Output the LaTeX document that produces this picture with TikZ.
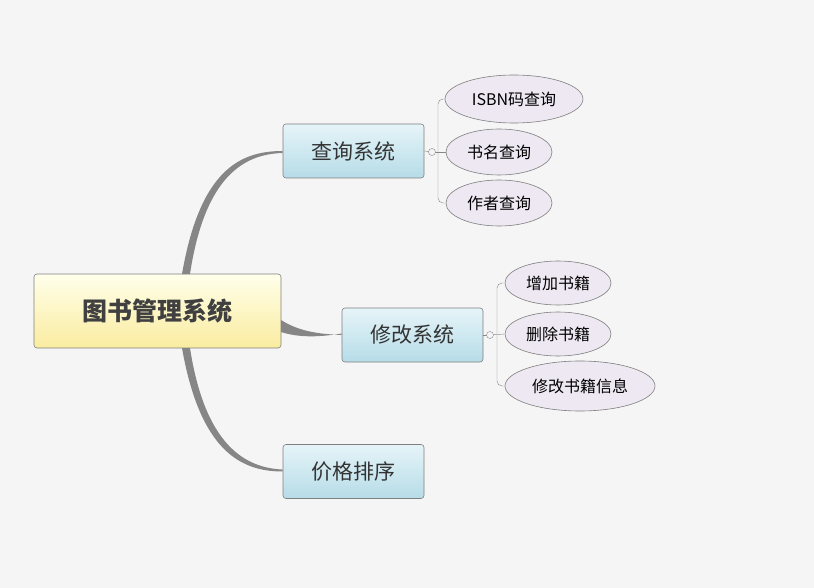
\documentclass[tikz,border=0pt]{standalone}
\usepackage{fontspec}
\setmainfont{Noto Sans CJK SC}
\usetikzlibrary{shapes.geometric}
\definecolor{bgc}{HTML}{F5F5F5}
\definecolor{linec}{HTML}{868686}
\definecolor{edgec}{HTML}{7F7F7F}
\begin{document}
\begin{tikzpicture}[x=1pt,y=-1pt,
    root/.style={draw=edgec,semithick,rounded corners=3pt,top color=yellow!8,bottom color={rgb,255:red,250;green,236;blue,160},
      minimum width=247pt,minimum height=74pt,font=\fontsize{25}{25}\selectfont\bfseries,text=black!75},
    branch/.style={draw=edgec,semithick,rounded corners=3pt,top color={rgb,255:red,230;green,244;blue,248},bottom color={rgb,255:red,182;green,220;blue,232},
      minimum width=141pt,minimum height=54pt,font=\fontsize{21}{21}\selectfont,text=black!80},
    leaf/.style={draw=edgec,semithick,ellipse,fill={rgb,255:red,238;green,232;blue,242},inner sep=0pt,font=\fontsize{16}{16}\selectfont},
    thickc/.style={linec,line width=4pt},
    brace/.style={linec,thin,rounded corners=5pt},
    knob/.style={draw=linec,fill=bgc,circle,inner sep=0pt,minimum size=7pt}]
  \useasboundingbox[fill=bgc] (0,0) rectangle (814,588);
  %root and branches
  \node[root] (rt) at (157.5,311) {图书管理系统};
  \node[branch] (q) at (353.5,151) {查询系统};
  \node[branch] (m) at (412.5,335) {修改系统};
  \node[branch] (p) at (353.5,471.5) {价格排序};
  %leaves
  \node[leaf,minimum width=138pt,minimum height=48pt] (q1) at (514,99) {ISBN码查询};
  \node[leaf,minimum width=106pt,minimum height=46pt] (q2) at (499,152) {书名查询};
  \node[leaf,minimum width=106pt,minimum height=46pt] (q3) at (499,203) {作者查询};
  \node[leaf,minimum width=106pt,minimum height=44pt] (m1) at (558,283) {增加书籍};
  \node[leaf,minimum width=106pt,minimum height=44pt] (m2) at (558,334) {删除书籍};
  \node[leaf,minimum width=150pt,minimum height=50pt] (m3) at (580,386) {修改书籍信息};
  %thick curves
  \fill[linec] (182,274) .. controls (200,170) and (240,151) .. (q.west) -- ([yshift=-2pt]q.west) .. controls (245,154) and (205,175) .. (190,274) -- cycle;
  \fill[linec] (182,348) .. controls (200,450) and (240,471.5) .. (p.west) -- ([yshift=2pt]p.west) .. controls (245,468) and (205,445) .. (190,348) -- cycle;
  \fill[linec] (281,320) .. controls (300,332) and (320,334) .. (m.west) -- ([yshift=1.5pt]m.west) .. controls (320,337) and (300,338) .. (281,332) -- cycle;
  %brackets
  \coordinate (qk) at (432,152);
  \coordinate (mk) at (490,335);
  \draw[linec,thin] (q.east) -- (qk);
  \draw[linec,thin] (m.east) -- (mk);
  \draw[brace] (q1.west) -| (438,152) |- (q3.west);
  \draw[linec,thin] (qk) -- (q2.west);
  \draw[brace] (m1.west) -| (497,335) |- (m3.west);
  \draw[linec,thin] (mk) -- (m2.west);
  \node[knob] at (qk) {};
  \node[knob] at (mk) {};
\end{tikzpicture}
\end{document}
